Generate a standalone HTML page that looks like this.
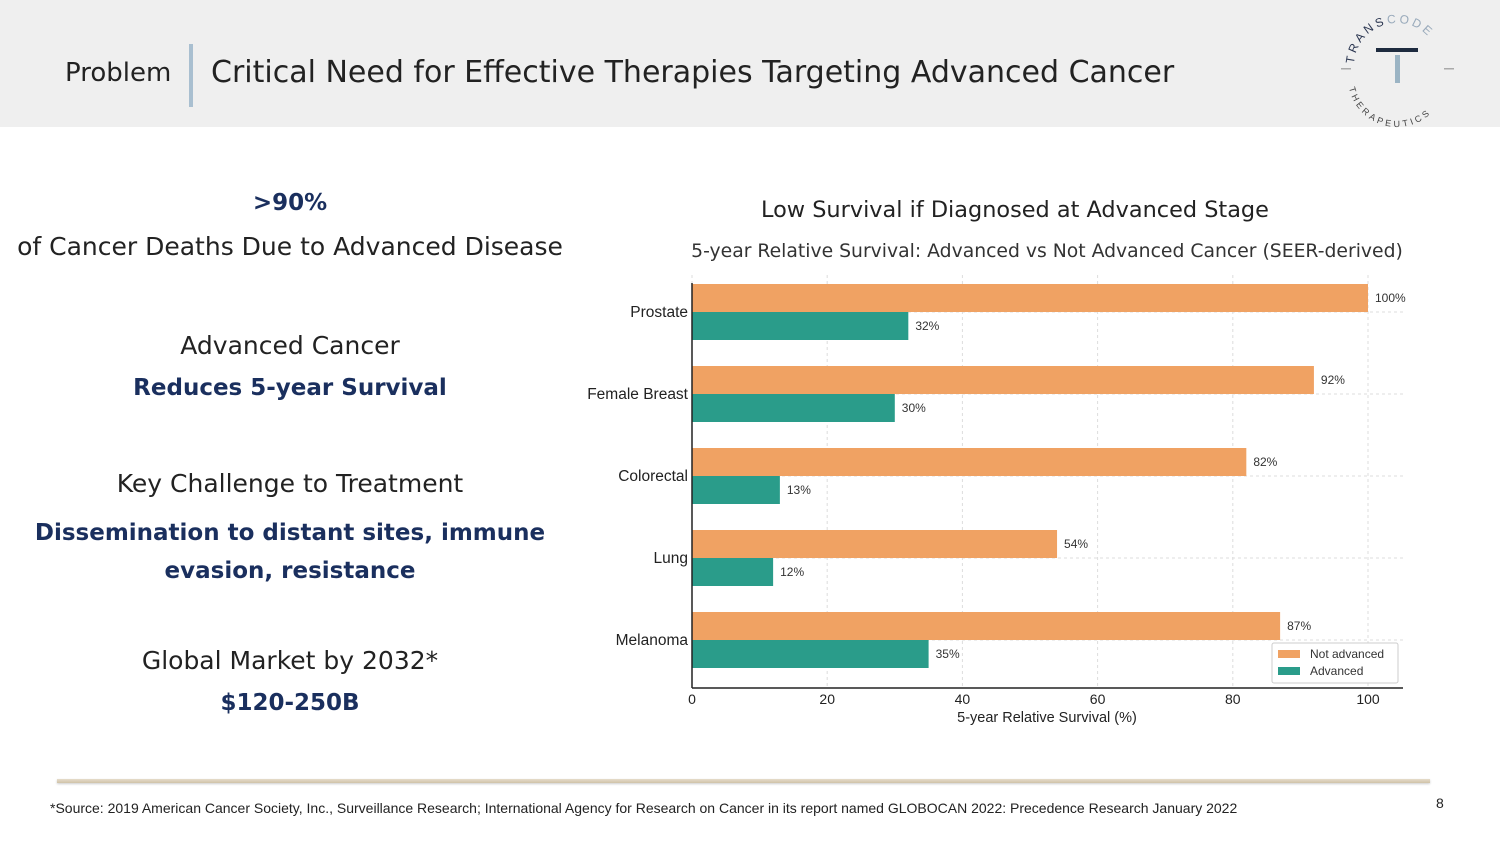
<!DOCTYPE html>
<html><head><meta charset="utf-8"><style>
body{margin:0;width:1500px;height:844px;background:#fff;font-family:"Liberation Sans",sans-serif;position:relative;overflow:hidden}
.abs{position:absolute}
.c{position:absolute;left:0;width:580px;text-align:center;font-family:"DejaVu Sans","Liberation Sans",sans-serif;font-size:25px}
.blue{color:#1a2f5e;font-weight:bold;font-size:23px}
</style></head><body>
<div class="abs" style="left:0;top:0;width:1500px;height:127px;background:#efefef"></div>
<div class="abs" style="left:65px;top:58px;font-size:26px;font-family:'DejaVu Sans',sans-serif;color:#222">Problem</div>
<div class="abs" style="left:189px;top:44px;width:4px;height:63px;background:#a9bfd0"></div>
<div class="abs" style="left:211px;top:55px;font-size:30px;font-family:'DejaVu Sans',sans-serif;color:#222">Critical Need for Effective Therapies Targeting Advanced Cancer</div>
<svg class="abs" style="left:1330px;top:0" width="140" height="130">
<path id="arcT" d="M24,66 A43,43 0 0 1 110,66" fill="none"/>
<path id="arcB" d="M18,78 A49,49 0 0 0 116,78" fill="none"/>
<text font-size="12" letter-spacing="3" fill="#2a3550"><textPath href="#arcT" startOffset="2">TRANS<tspan fill="#9ab">CODE</tspan></textPath></text>
<text font-size="9" letter-spacing="3" fill="#444"><textPath href="#arcB" startOffset="10">THERAPEUTICS</textPath></text>
<rect x="46" y="48" width="42" height="4" fill="#1e2b3f"/>
<rect x="65" y="55" width="5" height="28" fill="#9bb4c4"/>
<rect x="11" y="68" width="10" height="1.5" fill="#aaa"/><rect x="114" y="68" width="10" height="1.5" fill="#aaa"/>
</svg>

<div class="c blue" style="top:190px">&gt;90%</div>
<div class="c" style="top:232px;color:#222">of Cancer Deaths Due to Advanced Disease</div>
<div class="c" style="top:331px;color:#222">Advanced Cancer</div>
<div class="c blue" style="top:375px">Reduces 5-year Survival</div>
<div class="c" style="top:469px;color:#222">Key Challenge to Treatment</div>
<div class="c blue" style="top:514px;line-height:38px">Dissemination to distant sites, immune<br>evasion, resistance</div>
<div class="c" style="top:646px;color:#222">Global Market by 2032*</div>
<div class="c blue" style="top:690px">$120-250B</div>

<div class="abs" style="left:761px;top:197px;font-size:22.4px;font-family:'DejaVu Sans',sans-serif;color:#222">Low Survival if Diagnosed at Advanced Stage</div>
<svg class="abs" id="chart" style="left:0;top:0" width="1500" height="844"></svg>

<div class="abs" style="left:57px;top:779px;width:1373px;height:4px;background:linear-gradient(#e6dccb,#cfc2a8);box-shadow:0 1px 2px #ccc"></div>
<div class="abs" style="left:50px;top:800px;font-size:14px;color:#222">*Source: 2019 American Cancer Society, Inc., Surveillance Research; International Agency for Research on Cancer in its report named GLOBOCAN 2022: Precedence Research January 2022</div>
<div class="abs" style="left:1436px;top:795px;font-size:14px;color:#222">8</div>

<script>
const categories=["Prostate","Female Breast","Colorectal","Lung","Melanoma"];
const notAdvanced=[100,92,82,54,87];
const advanced=[32,30,13,12,35];
const xTicks=[0,20,40,60,80,100];
const NS="http://www.w3.org/2000/svg";
const svg=document.getElementById('chart');
const x0=692,pxPer=6.76,yTop=271,band=82,barH=28,axisY=688,xEnd=1403;
const X=v=>x0+v*pxPer;
const Yc=i=>yTop+band*(i+0.5);
function mk(t,a){const e=document.createElementNS(NS,t);for(const k in a)e.setAttribute(k,a[k]);svg.appendChild(e);return e;}
let t=mk('text',{x:1047,y:257,'font-size':18.8,'text-anchor':'middle',fill:'#333','font-family':'DejaVu Sans,Liberation Sans,sans-serif'});
t.textContent="5-year Relative Survival: Advanced vs Not Advanced Cancer (SEER-derived)";

xTicks.forEach(v=>{
 const g=mk('line',{x1:X(v),x2:X(v),y1:275,y2:axisY,stroke:'#ddd','stroke-dasharray':'3,3'});
 
 
 const l=mk('text',{x:X(v),y:704,'font-size':14,'text-anchor':'middle',fill:'#222'});l.textContent=v;
 
 
});
categories.forEach((c,i)=>{
 const yc=Yc(i);
 const gl=mk('line',{x1:x0,x2:xEnd,y1:yc,y2:yc,stroke:'#ddd','stroke-dasharray':'3,3'});
 
 
 const b1=mk('rect',{x:x0,y:yc-barH,width:X(notAdvanced[i])-x0,height:barH,fill:'#f0a263'});
 
 
 const b2=mk('rect',{x:x0,y:yc,width:X(advanced[i])-x0,height:barH,fill:'#2a9c8a'});
 
 
 const v1=mk('text',{x:X(notAdvanced[i])+7,y:yc-10,'font-size':12,fill:'#333'});v1.textContent=notAdvanced[i]+'%';
 
 
 const v2=mk('text',{x:X(advanced[i])+7,y:yc+18,'font-size':12,fill:'#333'});v2.textContent=advanced[i]+'%';
 
 
 const cl=mk('text',{x:688,y:yc+5,'font-size':15.5,'text-anchor':'end',fill:'#222'});cl.textContent=c;
 
 
});
mk('line',{x1:x0,x2:x0,y1:283,y2:axisY,stroke:'#222','stroke-width':1.5});
mk('line',{x1:x0,x2:xEnd,y1:axisY,y2:axisY,stroke:'#222','stroke-width':1.5});
t=mk('text',{x:1047,y:722,'font-size':14.5,'text-anchor':'middle',fill:'#222'});t.textContent="5-year Relative Survival (%)";

const lg=mk('rect',{x:1272,y:643,width:126,height:40,fill:'#fff',stroke:'#ccc',rx:2});

mk('rect',{x:1278,y:650,width:22,height:8,fill:'#f0a263'});
mk('rect',{x:1278,y:667,width:22,height:8,fill:'#2a9c8a'});
t=mk('text',{x:1310,y:658,'font-size':12,fill:'#333'});t.textContent="Not advanced";

t=mk('text',{x:1310,y:675,'font-size':12,fill:'#333'});t.textContent="Advanced";

</script>
</body></html>
